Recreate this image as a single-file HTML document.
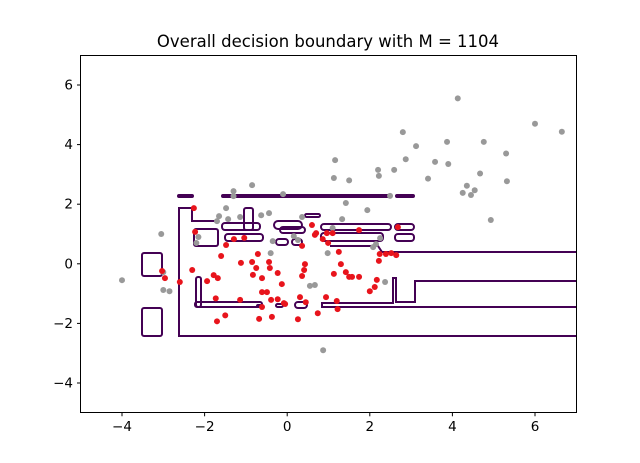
<!DOCTYPE html>
<html><head><meta charset="utf-8"><style>
body{margin:0;background:#fff}
svg{display:block;font-family:"DejaVu Sans","Liberation Sans",sans-serif}
</style></head><body>
<svg id="chart" width="640" height="463">
<rect width="640" height="463" fill="#fff"/>
<text x="328" y="47" text-anchor="middle" font-size="16.5">Overall decision boundary with M = 1104</text>
<g id="contours" fill="none" stroke="#440154" stroke-width="2">
<rect x="142" y="253" width="20" height="23" rx="2"/>
<rect x="142" y="308" width="20" height="28" rx="2"/>
<path d="M576,336 H179 V208 H192 V221 H216"/>
<rect x="178" y="195" width="15" height="2" rx="1"/>
<rect x="222" y="195" width="168" height="2" rx="1"/>
<rect x="396" y="195" width="18" height="2" rx="1"/>
<rect x="305" y="214" width="15" height="3" rx="1.5"/>
<rect x="194" y="229" width="24" height="17" rx="2"/>
<rect x="222" y="223" width="38" height="7" rx="3"/>
<rect x="225" y="234" width="38" height="7" rx="3"/>
<rect x="244" y="208" width="9" height="22" rx="2"/>
<rect x="274" y="221" width="28" height="8" rx="4"/>
<rect x="280" y="227" width="25" height="6" rx="3"/>
<rect x="321" y="224" width="70" height="6" rx="3"/>
<rect x="395" y="224" width="19" height="6" rx="3"/>
<rect x="321" y="233" width="62" height="8" rx="3"/>
<rect x="395" y="234" width="19" height="7" rx="3"/>
<rect x="276" y="239" width="12" height="6" rx="3"/>
<rect x="292" y="239" width="10" height="6" rx="3"/>
<path d="M576,252 H382 L378,246 H330"/>
<path d="M576,281 H415 V302 H396 V278 H393 V303 H370 Q360,303 330,303 H322 V307 H576"/>
<rect x="196" y="277" width="5" height="30" rx="2"/>
<rect x="195" y="302" width="67" height="5" rx="2"/>
<rect x="257" y="305" width="4" height="2" rx="1"/>
<rect x="276" y="304" width="7" height="3" rx="1.5"/>
<rect x="295" y="302" width="12" height="6" rx="3"/>
</g>
<g id="axes">
<rect x="80.5" y="55.5" width="496" height="357" fill="none" stroke="#000" stroke-width="1"/>
</g>
<g id="points"></g>
<g id="ticks" font-size="13.5"></g>
</svg>
<script>
const xTicks=[-4,-2,0,2,4,6];
const yTicks=[-4,-2,0,2,4,6];
const grayX=[-4.0,-3.05,-3.0,-2.85,-3.0,-2.2,-2.15,-1.7,-1.65,-1.48,-1.3,-1.3,-1.43,-1.14,-0.85,-0.63,-0.44,-0.1,0.16,0.36,0.87,1.1,1.13,1.16,1.33,1.42,1.5,1.94,2.2,2.22,2.49,2.59,2.8,2.87,3.12,3.41,3.58,3.87,3.9,4.13,4.25,4.35,4.45,4.54,4.67,4.76,4.93,5.3,5.32,6.0,6.65,2.15,2.25,2.08,-0.4,-0.35,2.37,0.98,0.26,0.55,0.67];
const grayY=[-0.55,1.0,-0.28,-0.92,-0.88,0.7,0.9,1.43,1.6,1.87,2.44,2.27,1.5,1.57,2.64,1.63,1.7,2.34,0.93,1.57,-2.9,1.2,2.88,3.48,1.5,2.04,2.8,1.8,3.15,2.95,2.28,3.15,4.42,3.51,3.95,2.86,3.42,4.09,3.35,5.55,2.38,2.62,2.31,2.47,3.03,4.09,1.47,3.7,2.77,4.7,4.43,0.66,0.86,0.56,0.36,0.76,-0.61,0.36,0.8,-0.74,-0.71];
const redX=[-3.03,-2.96,-2.6,-2.26,-2.23,-1.94,-2.3,-1.78,-1.68,-1.73,-1.5,-1.7,-1.29,-1.12,-1.48,-1.6,-1.04,-1.14,-0.85,-0.71,-0.75,-0.83,-0.61,-0.61,-0.44,-0.42,-0.23,-0.13,-0.61,-0.39,-0.37,-0.68,-0.49,0.36,0.36,0.41,0.43,0.7,0.6,0.67,0.86,0.99,0.96,1.1,1.13,1.2,1.22,1.25,1.3,1.42,1.57,1.5,1.74,1.74,2.0,2.12,2.24,2.22,2.39,2.17,2.52,2.64,2.68,-0.08,-0.05,0.26,0.74,0.94,0.31,0.45,-0.23];
const redY=[-0.24,-0.48,-0.61,1.87,1.07,-0.58,-0.21,-0.38,-0.48,-1.16,-1.73,-1.93,0.83,0.03,0.63,0.26,0.87,-1.21,0.06,0.33,-0.14,-0.37,-0.48,-0.95,0.06,-0.14,-0.31,-0.68,-1.45,-1.21,-1.78,-1.85,-0.95,0.6,-0.41,-0.21,-0.01,1.03,1.3,0.97,0.83,0.7,1.03,1.03,-0.34,-1.25,-1.52,0.4,-0.01,-0.28,-0.44,-0.44,-0.44,1.13,-0.92,-0.78,0.33,0.1,0.33,-0.54,0.36,0.29,1.23,-1.32,-1.35,-1.86,-1.66,-1.12,-1.12,-1.29,-1.19];
const sx=v=>80.7+(v+5)*41.3;
const sy=v=>263.8-v*29.8;
const NS="http://www.w3.org/2000/svg";
const pts=document.getElementById('points');
function dot(x,y,c,name){
  const e=document.createElementNS(NS,'circle');
  e.setAttribute('cx',sx(x));e.setAttribute('cy',sy(y));e.setAttribute('r',3);e.setAttribute('fill',c);
  
  
  pts.appendChild(e);
}
grayX.forEach((x,i)=>dot(x,grayY[i],'#999999','gray-point'));
redX.forEach((x,i)=>dot(x,redY[i],'#e8141c','red-point'));
const tk=document.getElementById('ticks');
xTicks.forEach(v=>{
  const l=document.createElementNS(NS,'line');
  l.setAttribute('x1',sx(v));l.setAttribute('x2',sx(v));l.setAttribute('y1',412.8);l.setAttribute('y2',416.3);l.setAttribute('stroke','#000');
  
  
  tk.appendChild(l);
  const t=document.createElementNS(NS,'text');
  t.setAttribute('x',sx(v));t.setAttribute('y',431);t.setAttribute('text-anchor','middle');
  t.textContent=v<0?'\u2212'+(-v):v;
  
  
  tk.appendChild(t);
});
yTicks.forEach(v=>{
  const l=document.createElementNS(NS,'line');
  l.setAttribute('x1',77);l.setAttribute('x2',80.5);l.setAttribute('y1',sy(v));l.setAttribute('y2',sy(v));l.setAttribute('stroke','#000');
  
  
  tk.appendChild(l);
  const t=document.createElementNS(NS,'text');
  t.setAttribute('x',73);t.setAttribute('y',sy(v)+4.5);t.setAttribute('text-anchor','end');
  t.textContent=v<0?'\u2212'+(-v):v;
  
  
  tk.appendChild(t);
});
</script>
</body></html>
